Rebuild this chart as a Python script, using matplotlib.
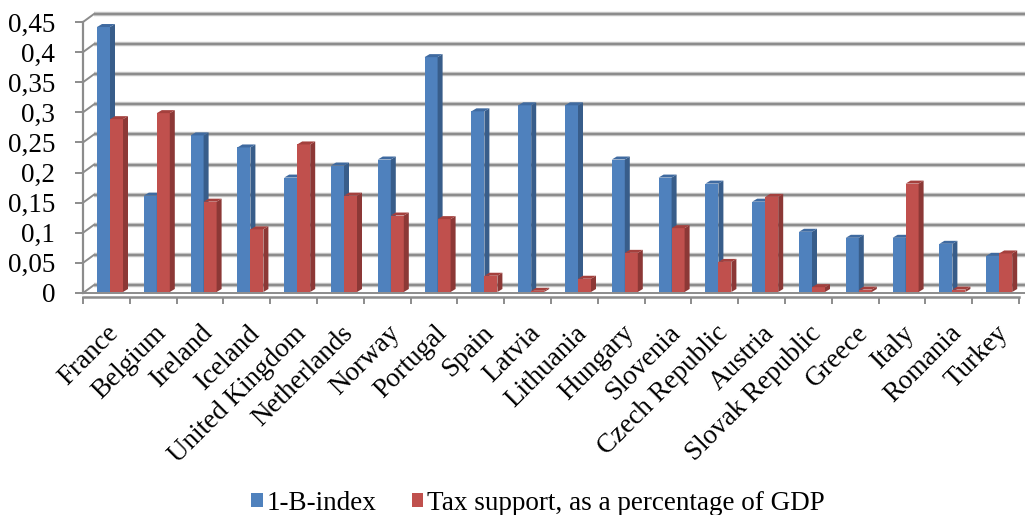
import matplotlib
matplotlib.use('Agg')
import matplotlib.pyplot as plt
from matplotlib.patches import Polygon, Patch
import numpy as np

countries = ['France', 'Belgium', 'Ireland', 'Iceland', 'United Kingdom',
             'Netherlands', 'Norway', 'Portugal', 'Spain', 'Latvia',
             'Lithuania', 'Hungary', 'Slovenia', 'Czech Republic', 'Austria',
             'Slovak Republic', 'Greece', 'Italy', 'Romania', 'Turkey']
b_index = [0.44, 0.16, 0.26, 0.24, 0.19, 0.21, 0.22, 0.39, 0.30, 0.31,
           0.31, 0.22, 0.19, 0.18, 0.15, 0.10, 0.09, 0.09, 0.08, 0.06]
tax_support = [0.287, 0.297, 0.150, 0.104, 0.245, 0.160, 0.127, 0.121, 0.027, 0.002,
               0.022, 0.065, 0.106, 0.050, 0.158, 0.008, 0.004, 0.180, 0.004, 0.064]
yticks = [0, 0.05, 0.1, 0.15, 0.2, 0.25, 0.3, 0.35, 0.4, 0.45]
series_names = ['1-B-index', 'Tax support, as a percentage of GDP']

W, H = 1025, 515
plt.rcParams['font.family'] = ['Liberation Serif', 'DejaVu Serif']
FS = 19.5
GRID = '#8c8c8c'

fig = plt.figure(figsize=(W / 100, H / 100), dpi=100)
ax = fig.add_axes([83 / W, (H - 293) / H, (1019 - 83) / W, (293 - 22) / H])
ax.set_xlim(-0.5, len(countries) - 0.5)
ax.set_ylim(0, 0.45)

# pixel -> data helpers for the fake 3d depth
px_x = (len(countries)) / (1019 - 83)
px_y = 0.45 / (293 - 22)

# back wall gridlines, shifted up/right
bx, by = 11 * px_x, 8 * px_y
for v in yticks:
    ax.plot([-0.5 + bx, len(countries) + 1], [v + by, v + by], color='#c8c8c8',
            lw=3.2, clip_on=False, zorder=1, solid_capstyle='butt')
    ax.plot([-0.5 + bx, len(countries) + 1], [v + by, v + by], color=GRID,
            lw=1.6, clip_on=False, zorder=1.1, solid_capstyle='butt')
    ax.plot([-0.5, -0.5 + bx], [v, v + by], color=GRID, lw=1.4,
            clip_on=False, zorder=1.1)
ax.plot([-0.5, len(countries) + 1], [0, 0], color=GRID, lw=1.4,
        clip_on=False, zorder=1.1)

# bars: front face via ax.bar, side and top faces as polygons
bw = 13 * px_x
shift = 3.6 * px_x
base = 1 * px_y
dx, dy = 5 * px_x, 3 * px_y
x = np.arange(len(countries))
series = [(b_index, '#4f81bd', '#385d8a', '#3f6aa0', -bw),
          (tax_support, '#c0504d', '#8c3836', '#a4403d', 0)]
for i in x:
    for vals, front, side, top, off in series:
        h = vals[i]
        x0 = i + shift + off
        x1 = x0 + bw
        y1 = base + h
        ax.bar(x0, h, width=bw, bottom=base, align='edge', color=front,
               zorder=3, edgecolor='none')
        ax.add_patch(Polygon([(x1, base), (x1 + dx, base + dy), (x1 + dx, y1 + dy), (x1, y1)],
                             closed=True, facecolor=side, edgecolor='none', zorder=3))
        ax.add_patch(Polygon([(x0, y1), (x1, y1), (x1 + dx, y1 + dy), (x0 + dx, y1 + dy)],
                             closed=True, facecolor=top, edgecolor='none', zorder=3))

# axes styling
for s in ['top', 'right']:
    ax.spines[s].set_visible(False)
ax.spines['left'].set_color(GRID)
ax.spines['left'].set_linewidth(1.6)
ax.spines['bottom'].set_color(GRID)
ax.spines['bottom'].set_linewidth(1.8)
ax.spines['bottom'].set_position(('outward', 3))

ax.set_yticks(yticks)
ax.set_yticklabels([('%g' % v).replace('.', ',') for v in yticks], fontsize=FS)
ax.tick_params(axis='y', length=6, width=1.4, color=GRID, pad=14)

ax.set_xticks(x)
ax.set_xticks(np.arange(-0.5, len(countries)), minor=True)
ax.tick_params(axis='x', which='major', length=0, pad=17)
ax.tick_params(axis='x', which='minor', length=5, width=1.4, color=GRID)
ax.set_xticklabels(countries, fontsize=FS, rotation=45, ha='right',
                   rotation_mode='anchor')
for lab in ax.get_xticklabels():
    lab.set_x(lab.get_position()[0] + 0.1)

handles = [Patch(facecolor='#4f81bd', label=series_names[0]),
           Patch(facecolor='#c0504d', label=series_names[1])]
fig.legend(handles=handles, loc='center', bbox_to_anchor=(538 / W, 1 - 503 / H),
           ncol=2, frameon=False, fontsize=FS, handlelength=0.42,
           handleheight=0.45, handletextpad=0.15, columnspacing=1.3)

fig.savefig('out.png', dpi=100, facecolor='white')
